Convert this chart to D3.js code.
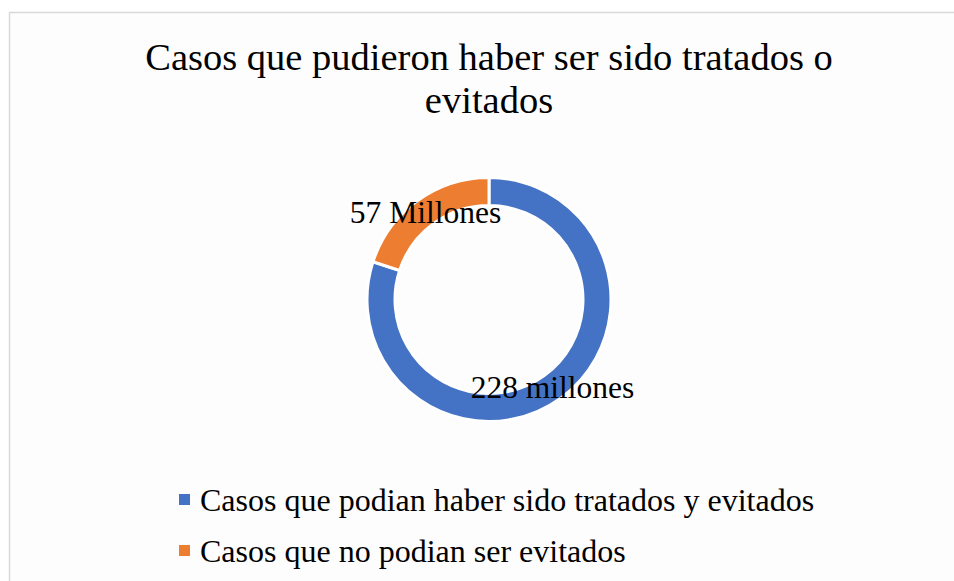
<!DOCTYPE html>
<html>
<head>
<meta charset="utf-8">
<script src="https://cdn.jsdelivr.net/npm/d3@7"></script>
<style>
  html, body { margin: 0; padding: 0; background: #ffffff; }
  svg { display: block; }
</style>
</head>
<body>
<svg id="chart" width="954" height="581"></svg>
<script>
// Chart data
const categories = [
  "Casos que podian haber sido tratados y evitados",
  "Casos que no podian ser evitados"
];
const values = [228, 57];
const valueLabels = ["228 millones", "57 Millones"];
const colors = ["#4472c4", "#ed7d31"];
const titleLines = ["Casos que pudieron haber ser sido tratados o", "evitados"];

const svg = d3.select("#chart");
const W = 954, H = 581;
const font = "'Liberation Serif', 'Times New Roman', serif";

// Chart area frame
svg.append("rect")
  .attr("x", 9.5).attr("y", 12.5)
  .attr("width", W + 10).attr("height", H + 10)
  .attr("fill", "#fdfdfd")
  .attr("stroke", "#d9d9d9")
  .attr("stroke-width", 1.5);

// Title
svg.append("g").selectAll("text")
  .data(titleLines)
  .join("text")
  .attr("x", 489)
  .attr("y", (d, i) => 70 + i * 43)
  .attr("text-anchor", "middle")
  .attr("font-family", font)
  .attr("font-size", 38.5)
  .attr("fill", "#000")
  .text(d => d);

// Doughnut
const cx = 489, cy = 299.5;
const outerR = 122, innerR = 94;
const pie = d3.pie().sort(null).value(d => d);
const arcs = pie(values);
const arc = d3.arc().innerRadius(innerR).outerRadius(outerR);
const labelArc = d3.arc().innerRadius(108).outerRadius(108);

const g = svg.append("g").attr("transform", `translate(${cx},${cy})`);
g.selectAll("path")
  .data(arcs)
  .join("path")
  .attr("d", arc)
  .attr("fill", (d, i) => colors[i])
  .attr("stroke", "#ffffff")
  .attr("stroke-width", 3);

g.selectAll("text")
  .data(arcs)
  .join("text")
  .attr("transform", d => `translate(${labelArc.centroid(d)})`)
  .attr("text-anchor", "middle")
  .attr("dy", "0.36em")
  .attr("font-family", font)
  .attr("font-size", 31.5)
  .attr("fill", "#000")
  .text((d, i) => valueLabels[i]);

// Legend
const legend = svg.append("g");
const rows = legend.selectAll("g")
  .data(categories)
  .join("g")
  .attr("transform", (d, i) => `translate(179, ${511 + i * 51})`);
rows.append("rect")
  .attr("x", 0).attr("y", -17)
  .attr("width", 11).attr("height", 11)
  .attr("fill", (d, i) => colors[i]);
rows.append("text")
  .attr("x", 21).attr("y", 0)
  .attr("font-family", font)
  .attr("font-size", 32)
  .attr("fill", "#000")
  .text(d => d);
</script>
</body>
</html>
